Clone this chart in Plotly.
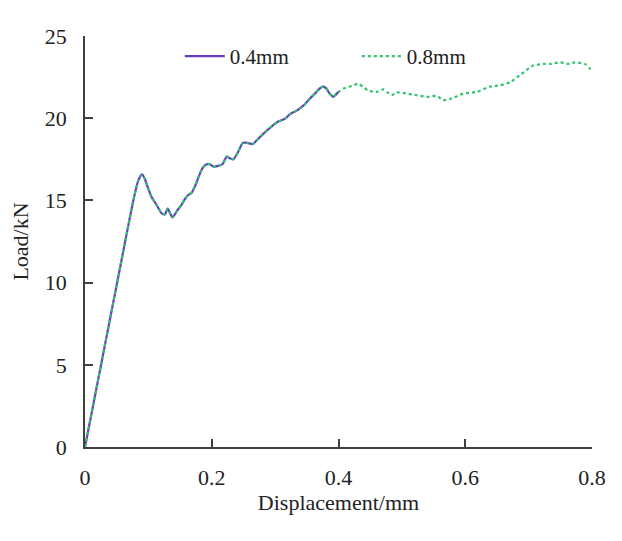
import plotly.graph_objects as go

# 0.4mm curve (shared initial part)
disp_04 = [0, 0.07, 0.078, 0.084, 0.0895, 0.094, 0.099, 0.105, 0.113, 0.121, 0.126, 0.1305,
           0.1345, 0.138, 0.145, 0.152, 0.158, 0.163, 0.168, 0.174, 0.18, 0.186, 0.192, 0.197,
           0.203, 0.21, 0.217, 0.2236, 0.229, 0.234, 0.241, 0.249, 0.256, 0.2646, 0.272, 0.28,
           0.287, 0.296, 0.305, 0.31, 0.317, 0.3235, 0.331, 0.339, 0.347, 0.355, 0.363, 0.37,
           0.376, 0.381, 0.386, 0.392, 0.396, 0.4]
load_04 = [0, 13.8, 15.3, 16.2, 16.58, 16.35, 15.8, 15.2, 14.72, 14.21, 14.15, 14.5,
           14.2, 13.97, 14.35, 14.72, 15.1, 15.33, 15.45, 15.9, 16.5, 17.0, 17.2, 17.2,
           17.05, 17.1, 17.2, 17.66, 17.55, 17.5, 17.9, 18.5, 18.5, 18.43, 18.7, 19.0,
           19.25, 19.55, 19.8, 19.87, 20.0, 20.25, 20.4, 20.6, 20.85, 21.2, 21.5, 21.8,
           21.92, 21.8, 21.5, 21.3, 21.45, 21.6]

# 0.8mm continuation beyond 0.4mm
disp_08_tail = [0.408, 0.421, 0.431, 0.439, 0.447, 0.46, 0.471, 0.478, 0.484, 0.492, 0.5076,
                0.523, 0.539, 0.555, 0.5655, 0.5787, 0.597, 0.618, 0.639, 0.655, 0.671, 0.689,
                0.707, 0.723, 0.734, 0.75, 0.763, 0.773, 0.789, 0.797, 0.8]
load_08_tail = [21.8, 21.96, 22.1, 21.9, 21.67, 21.6, 21.75, 21.55, 21.4, 21.57, 21.5,
                21.4, 21.3, 21.35, 21.1, 21.2, 21.5, 21.6, 21.92, 22.0, 22.2, 22.7,
                23.2, 23.3, 23.3, 23.4, 23.3, 23.4, 23.3, 23.0, 22.8]

disp_08 = disp_04 + disp_08_tail
load_08 = load_04 + load_08_tail

x_ticks = [0, 0.2, 0.4, 0.6, 0.8]
x_tick_labels = ["0", "0.2", "0.4", "0.6", "0.8"]
y_ticks = [0, 5, 10, 15, 20, 25]

purple = "#6a3dbf"
green = "#2fc46f"
font = "Liberation Serif, Times New Roman, serif"

fig = go.Figure()
fig.add_trace(go.Scatter(x=disp_04, y=load_04, mode="lines", name="0.4mm",
                         line=dict(color=purple, width=2.2, shape="spline", smoothing=0.6)))
fig.add_trace(go.Scatter(x=disp_08, y=load_08, mode="lines", name="0.8mm",
                         line=dict(color=green, width=2.2, dash="dot", shape="spline", smoothing=0.6)))

axis_col = "#404040"
fig.update_layout(
    width=622, height=541,
    margin=dict(l=85, r=30, t=36, b=94),
    paper_bgcolor="white", plot_bgcolor="white",
    font=dict(family=font, size=22, color="#222"),
    legend=dict(orientation="h", x=0.187, y=1.0, xanchor="left", yanchor="top",
                bgcolor="rgba(0,0,0,0)", font=dict(size=21, family=font),
                entrywidth=122, entrywidthmode="pixels", itemwidth=40),
    showlegend=True,
)
fig.update_xaxes(range=[0, 0.8], tickvals=x_ticks, ticktext=x_tick_labels,
                 showgrid=False, zeroline=False, showline=True, linecolor=axis_col, linewidth=1.5,
                 ticks="inside", ticklen=8, tickwidth=1.5, tickcolor=axis_col,
                 ticklabelstandoff=10,
                 title=dict(text="Displacement/mm", font=dict(size=22, family=font), standoff=2),
                 tickfont=dict(size=22, family=font))
fig.update_yaxes(range=[0, 25], tickvals=y_ticks,
                 showgrid=False, zeroline=False, showline=True, linecolor=axis_col, linewidth=1.5,
                 ticks="inside", ticklen=8, tickwidth=1.5, tickcolor=axis_col,
                 ticklabelstandoff=12,
                 title=dict(text="Load/kN", font=dict(size=22, family=font), standoff=10),
                 tickfont=dict(size=22, family=font))

fig.write_html("out.html")
